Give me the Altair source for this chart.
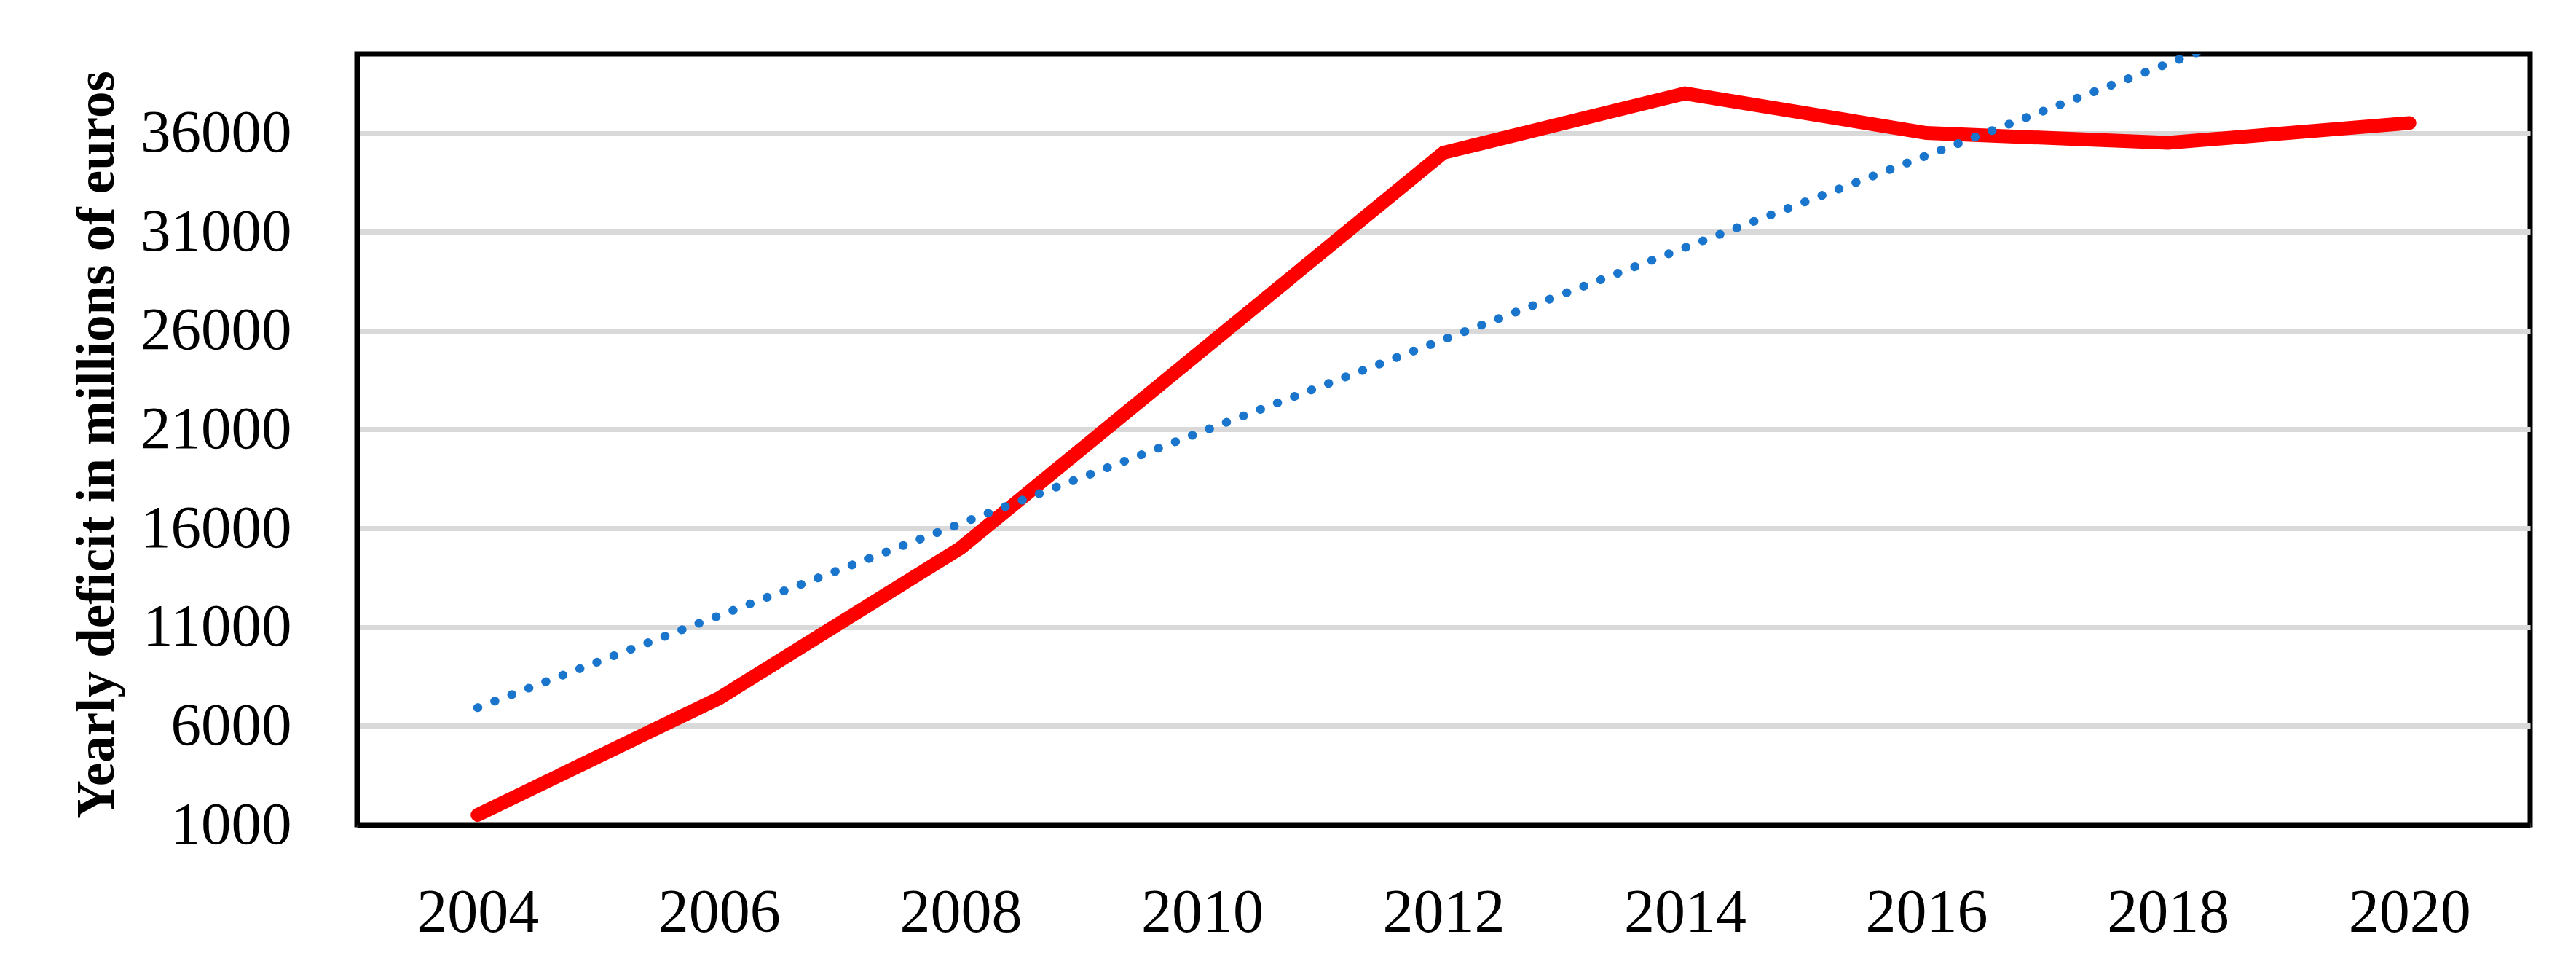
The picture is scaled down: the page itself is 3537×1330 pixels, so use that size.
import altair as alt
import pandas as pd

# Data
years = [2004, 2006, 2008, 2010, 2012, 2014, 2016, 2018, 2020]
deficit = [1500, 7400, 15000, 25000, 35000, 38000, 36000, 35500, 36500]

y_ticks = [1000, 6000, 11000, 16000, 21000, 26000, 31000, 36000]
x_ticks = years
y_title = "Yearly deficit in millions of euros"

df = pd.DataFrame({"year": years, "value": deficit})

FONT = "Liberation Serif"

x_enc = alt.X(
    "year:Q",
    scale=alt.Scale(domain=[2003, 2021], nice=False, zero=False),
    axis=alt.Axis(
        values=x_ticks, format="d", title=None, grid=False,
        domain=True, domainColor="black", domainWidth=7,
        ticks=False, labelFont=FONT, labelFontSize=84, labelColor="black",
        labelPadding=80, labelLimit=0, zindex=1,
    ),
)
y_enc = alt.Y(
    "value:Q",
    scale=alt.Scale(domain=[1000, 40000], nice=False, zero=False),
    axis=alt.Axis(
        values=y_ticks, format="d", title=y_title, grid=True,
        gridColor="#d9d9d9", gridWidth=7,
        domain=True, domainColor="black", domainWidth=7, ticks=False,
        labelFont=FONT, labelFontSize=83, labelColor="black", labelPadding=90,
        labelLimit=0,
        titleFont=FONT, titleFontSize=73, titleFontWeight="bold",
        titleColor="black", titleAngle=-90, titleX=-335, titleY=536,
        titleBaseline="alphabetic", titleAlign="center", titleLimit=0,
    ),
)

base = alt.Chart(df)

red = base.mark_line(
    color="#ff0000", strokeWidth=19, strokeCap="round", strokeJoin="miter"
).encode(x=x_enc, y=y_enc)

trend = base.transform_regression(
    "year", "value", method="linear", extent=[2004, 2020]
).mark_line(
    color="#1a75cc", strokeWidth=12, strokeDash=[0.5, 24.5], strokeCap="round",
    clip=True,
).encode(x=alt.X("year:Q"), y=alt.Y("value:Q"))

chart = alt.layer(red, trend).properties(
    width=2984,
    height=1058,
    autosize=alt.AutoSizeParams(type="none"),
    padding={"left": 482, "top": 66, "right": 40, "bottom": 220},
    background="white",
).configure_view(
    stroke="black", strokeWidth=7
)

chart.save("out.html", embed_options={"renderer": "svg", "actions": False})
